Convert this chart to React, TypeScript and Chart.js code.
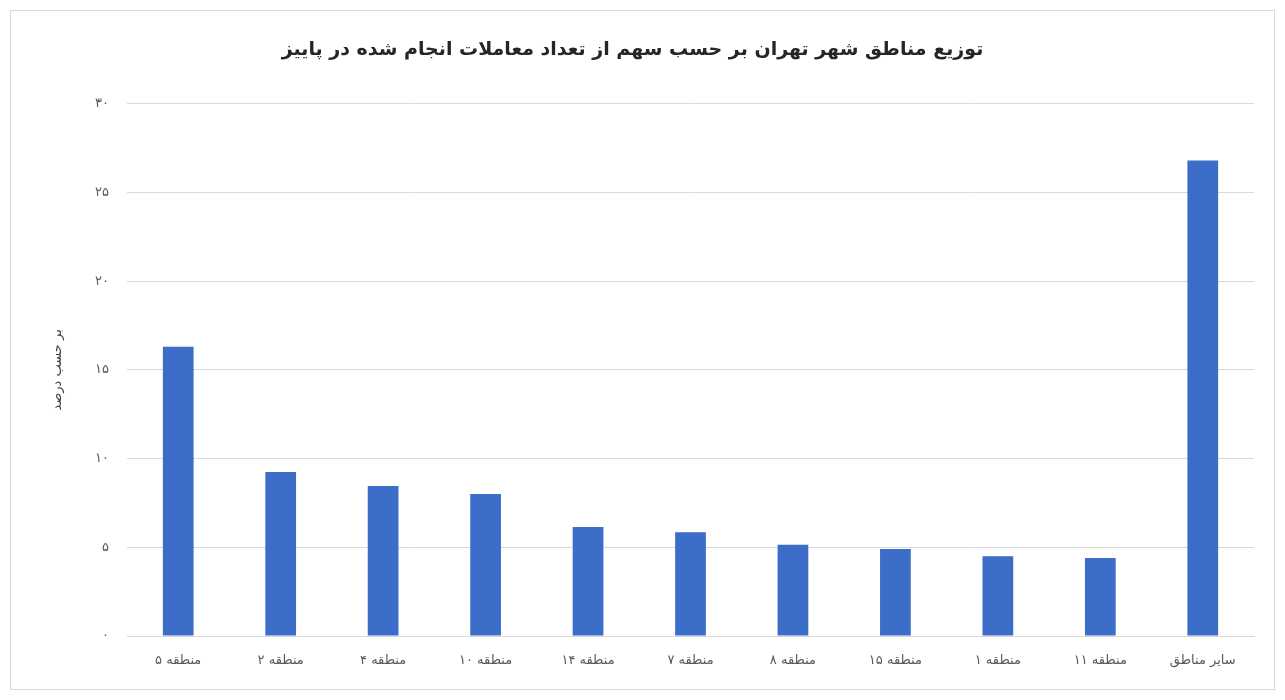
import React, { useEffect, useRef } from "react";
import { Chart, registerables } from "chart.js";

Chart.register(...registerables);

const chartTitle = "توزیع مناطق شهر تهران بر حسب سهم از تعداد معاملات انجام شده در پاییز";
const yAxisTitle = "بر حسب درصد";
const categories = [
  "منطقه ۵",
  "منطقه ۲",
  "منطقه ۴",
  "منطقه ۱۰",
  "منطقه ۱۴",
  "منطقه ۷",
  "منطقه ۸",
  "منطقه ۱۵",
  "منطقه ۱",
  "منطقه ۱۱",
  "سایر مناطق",
];
const shareValues = [16.3, 9.25, 8.45, 8.0, 6.15, 5.85, 5.15, 4.9, 4.5, 4.4, 26.8];
const yTickValues = [0, 5, 10, 15, 20, 25, 30];
const yTickLabels = ["۰", "۵", "۱۰", "۱۵", "۲۰", "۲۵", "۳۰"];

const FONT = "'DejaVu Sans', sans-serif";

export default function App() {
  const ref = useRef<HTMLCanvasElement | null>(null);
  useEffect(() => {
    if (!ref.current) return;
    const chart = new Chart(ref.current, {
      type: "bar",
      data: {
        labels: categories,
        datasets: [
          {
            data: shareValues,
            backgroundColor: "#3C6DC8",
            borderWidth: 0,
            categoryPercentage: 1,
            barPercentage: 0.3,
          },
        ],
      },
      options: {
        responsive: false,
        animation: false,
        layout: { padding: { left: 0, right: 20, top: 0, bottom: 0 } },
        plugins: {
          legend: { display: false },
          tooltip: { enabled: false },
          title: {
            display: true,
            text: chartTitle,
            color: "#262626",
            font: { family: FONT, size: 19, weight: "bold", lineHeight: 1.2 },
            padding: { top: 28, bottom: 42 },
          },
        },
        scales: {
          x: {
            grid: { display: false, drawTicks: false },
            border: { display: true, color: "#d9d9d9", width: 1 },
            ticks: {
              color: "#595959",
              font: { family: FONT, size: 13 },
              padding: 17,
              maxRotation: 0,
              autoSkip: false,
            },
            afterFit: (s: any) => {
              s.height = 53;
            },
          },
          y: {
            min: 0,
            max: 30,
            afterBuildTicks: (s: any) => {
              s.ticks = yTickValues.map((v) => ({ value: v }));
            },
            grid: { color: "#d9d9d9", drawTicks: false, lineWidth: 1 },
            border: { display: false },
            ticks: {
              color: "#595959",
              font: { family: FONT, size: 13 },
              padding: 18,
              callback: (v: any) => {
                const i = yTickValues.indexOf(Number(v));
                return i >= 0 ? yTickLabels[i] : "";
              },
            },
            title: {
              display: true,
              text: yAxisTitle,
              color: "#404040",
              font: { family: FONT, size: 13, lineHeight: 1.2 },
              padding: { top: 39, bottom: 0 },
            },
            afterFit: (s: any) => {
              s.width = 116;
            },
          },
        },
      },
    });
    return () => chart.destroy();
  }, []);
  return (
    <div style={{ padding: "2px" }}>
      <div
        style={{
          border: "1px solid #d9d9d9",
          width: "1263px",
          height: "678px",
          background: "#fff",
        }}
      >
        <canvas ref={ref} width={1263} height={678} />
      </div>
    </div>
  );
}
